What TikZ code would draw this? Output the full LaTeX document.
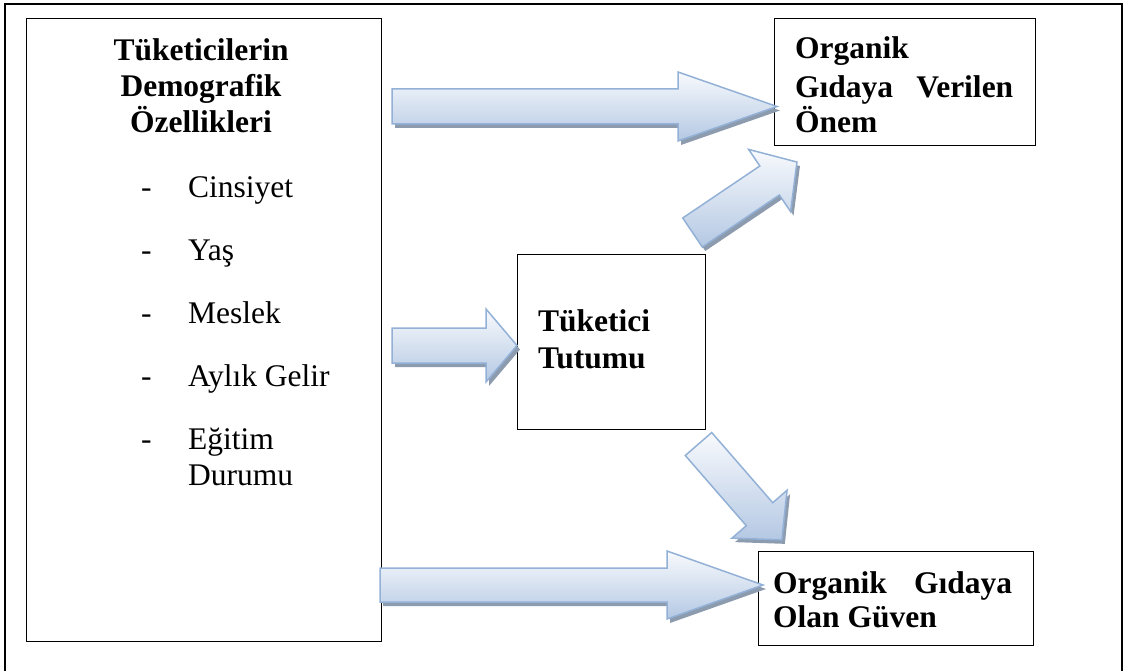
\documentclass[tikz,border=0pt]{standalone}
\usepackage{fontspec}
\setmainfont{Liberation Serif}
\definecolor{arrowtop}{HTML}{F8FAFD}
\definecolor{arrowbot}{HTML}{B4C8E3}
\definecolor{arrowline}{HTML}{93B1D6}
\definecolor{arrowshadow}{HTML}{8D9BAF}
% #1 name, #2 tail coordinate, #3 angle, #4 length, #5 shaft width, #6 head width, #7 head length
\newcommand{\blkarrow}[7]{%
  \coordinate (#1-tail) at #2;
  \begin{scope}[shift={(#1-tail)}]
    \begin{scope}[shift={(3,-4)},rotate=#3]
      \fill[arrowshadow] (0,#5/2) -- (#4-#7,#5/2) -- (#4-#7,#6/2) -- (#4,0) -- (#4-#7,-#6/2) -- (#4-#7,-#5/2) -- (0,-#5/2) -- cycle;
    \end{scope}
    \begin{scope}[rotate=#3]
      \shadedraw[blockarrow] (0,#5/2) -- (#4-#7,#5/2) -- (#4-#7,#6/2) -- (#4,0) -- (#4-#7,-#6/2) -- (#4-#7,-#5/2) -- (0,-#5/2) -- cycle;
      \coordinate (#1-tip) at (#4,0);
    \end{scope}
  \end{scope}}
\tikzset{
  box/.style={draw, line width=1pt, anchor=north west, inner sep=0pt, outer sep=0pt},
  plain/.style={font=\fontsize{31.5}{37}\selectfont, inner sep=0pt, anchor=base west},
  heavy/.style={font=\fontsize{31.5}{37}\selectfont\bfseries, inner sep=0pt, anchor=base west},
  heavyc/.style={heavy, anchor=base},
  blockarrow/.style={top color=arrowtop, bottom color=arrowbot, draw=arrowline, line width=1.5pt, line join=miter}
}
\begin{document}
\begin{tikzpicture}[x=1pt,y=1pt]
\useasboundingbox (0,0) rectangle (1129,-671);
% outer frame
\draw[line width=2.3pt] (5,-680) -- (5,-4) -- (1122,-4) -- (1122,-680);
% boxes
\node[box, minimum width=355pt, minimum height=622pt] (demo) at (26,-19) {};
\node[box, minimum width=261pt, minimum height=127pt] (onem) at (774,-19) {};
\node[box, minimum width=188pt, minimum height=175pt] (tutum) at (517,-254) {};
\node[box, minimum width=275pt, minimum height=94pt] (guven) at (758,-551) {};
% left box text
\node[heavyc] (t1) at (201,-61) {Tüketicilerin};
\node[heavyc] (t2) at (201,-97) {Demografik};
\node[heavyc] (t3) at (201,-133) {Özellikleri};
\node[plain] (d1) at (141,-197) {-};
\node[plain] (i1) at (188,-197) {Cinsiyet};
\node[plain] (d2) at (141,-260) {-};
\node[plain] (i2) at (188,-260) {Yaş};
\node[plain] (d3) at (141,-323) {-};
\node[plain] (i3) at (188,-323) {Meslek};
\node[plain] (d4) at (141,-386) {-};
\node[plain] (i4) at (188,-386) {Aylık Gelir};
\node[plain] (d5) at (141,-449) {-};
\node[plain] (i5) at (188,-449) {Eğitim};
\node[plain] (i6) at (188,-485) {Durumu};
% top right box text
\node[heavy] (o1) at (795,-59) {Organik};
\node[heavy] (o2) at (795,-98) {\makebox[218pt][s]{Gıdaya Verilen}};
\node[heavy] (o3) at (795,-133) {Önem};
% middle box text
\node[heavy] (m1) at (538,-331) {Tüketici};
\node[heavy] (m2) at (538,-368) {Tutumu};
% bottom right box text
\node[heavy] (g1) at (773,-593) {\makebox[239pt][s]{Organik Gıdaya}};
\node[heavy] (g2) at (773,-627) {Olan Güven};
% block arrows
\blkarrow{a1}{(392,-106.5)}{0}{385}{35}{69}{99}
\blkarrow{a2}{(692.5,-232.5)}{34}{126}{35}{75}{33}
\blkarrow{a3}{(392,-345.5)}{0}{125}{35}{73}{31}
\blkarrow{a4}{(698.5,-444)}{-49}{127}{35}{73}{34}
\blkarrow{a5}{(380,-585)}{0}{383}{34}{68}{96}
\end{tikzpicture}
\end{document}
